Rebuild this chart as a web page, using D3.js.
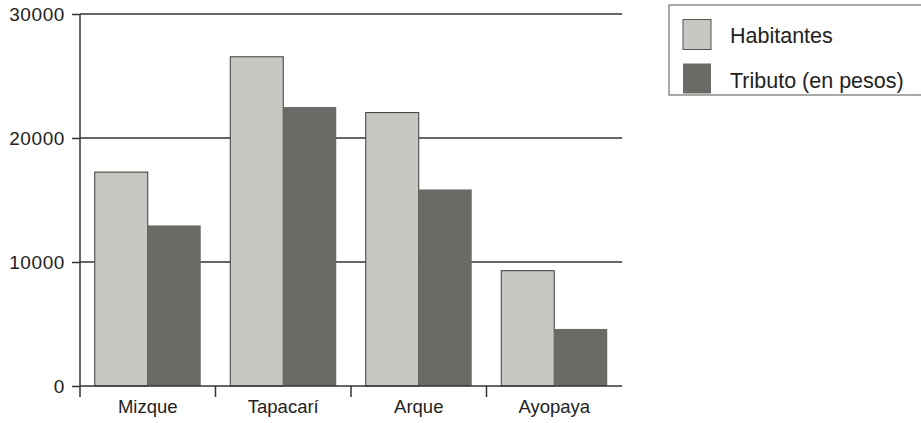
<!DOCTYPE html>
<html>
<head>
<meta charset="utf-8">
<script src="https://cdn.jsdelivr.net/npm/d3@7"></script>
<style>
  html, body { margin: 0; padding: 0; background: #fff; }
  svg { display: block; font-family: "Liberation Sans", Arial, Helvetica, sans-serif; }
</style>
</head>
<body>
<svg id="chart" width="921" height="423"></svg>
<script>
const categories = ["Mizque", "Tapacarí", "Arque", "Ayopaya"];
const seriesNames = ["Habitantes", "Tributo (en pesos)"];
const habitantes = [17250, 26550, 22050, 9300];
const tributo = [12950, 22500, 15850, 4600];
const yTicks = [0, 10000, 20000, 30000];

(function () {
const colors = ["#c9c7c2", "#6c6a67"];
const values = [habitantes, tributo];

const svg = d3.select("#chart");
const mLeft = 80, mRight = 622, mTop = 14, mBottom = 386;

const y = d3.scaleLinear().domain([0, 30000]).range([mBottom, mTop]);
const x = d3.scaleBand().domain(categories).range([mLeft, mRight])
  .paddingInner(0.2177).paddingOuter(0.1089);
const x1 = d3.scaleBand().domain(seriesNames).range([0, x.bandwidth()]).padding(0);

// gridlines
svg.append("g").selectAll("line").data(yTicks.filter(d => d > 0)).join("line")
  .attr("x1", mLeft).attr("x2", mRight)
  .attr("y1", d => y(d)).attr("y2", d => y(d))
  .attr("stroke", "#333").attr("stroke-width", 1.5);

// bars
const data = [];
categories.forEach((c, i) => seriesNames.forEach((s, j) => data.push({c, s, j, v: values[j][i]})));
svg.append("g").selectAll("rect").data(data).join("rect")
  .attr("x", d => x(d.c) + x1(d.s))
  .attr("y", d => y(d.v))
  .attr("width", x1.bandwidth())
  .attr("height", d => y(0) - y(d.v))
  .attr("fill", d => colors[d.j])
  .attr("stroke", d => d.j === 0 ? "#3a3a3a" : "none")
  .attr("stroke-width", 1);

// y axis
const yAxis = d3.axisLeft(y).tickValues(yTicks).tickSize(8).tickPadding(7).tickFormat(d3.format("d"));
const ya = svg.append("g").attr("transform", `translate(${mLeft},0)`).call(yAxis);
ya.select(".domain").remove();
ya.selectAll(".tick line").attr("stroke", "#333").attr("stroke-width", 1.5);
ya.selectAll("text").attr("font-size", 19).attr("fill", "#222").style("letter-spacing", "0.6px")
  .attr("font-family", "'Liberation Sans', Arial, sans-serif");
svg.append("line").attr("x1", mLeft).attr("x2", mLeft).attr("y1", mTop).attr("y2", mBottom + 11)
  .attr("stroke", "#333").attr("stroke-width", 1.5);

// x axis
const xAxis = d3.axisBottom(x).tickSize(0).tickPadding(14);
const xa = svg.append("g").attr("transform", `translate(0,${mBottom})`).call(xAxis);
xa.select(".domain").remove();
xa.selectAll("text").attr("font-size", 18.5).attr("fill", "#222")
  .attr("font-family", "'Liberation Sans', Arial, sans-serif");
svg.append("line").attr("x1", mLeft).attr("x2", mRight).attr("y1", mBottom).attr("y2", mBottom)
  .attr("stroke", "#333").attr("stroke-width", 1.5);
svg.append("g").selectAll("line").data(categories.slice(1)).join("line")
  .attr("x1", d => x(d) - x.step() * x.paddingInner() / 2)
  .attr("x2", d => x(d) - x.step() * x.paddingInner() / 2)
  .attr("y1", mBottom).attr("y2", mBottom + 11)
  .attr("stroke", "#333").attr("stroke-width", 1.5);

// legend
const lg = svg.append("g");
lg.append("rect").attr("x", 669).attr("y", 5).attr("width", 270).attr("height", 90)
  .attr("fill", "none").attr("stroke", "#555").attr("stroke-width", 1);
const legY = [19.5, 63.5];
const legText = [43, 88];
seriesNames.forEach((s, j) => {
  lg.append("rect").attr("x", 683).attr("y", legY[j]).attr("width", 28).attr("height", 30)
    .attr("fill", colors[j]).attr("stroke", j === 0 ? "#555" : "none").attr("stroke-width", 1);
  lg.append("text").attr("x", 730).attr("y", legText[j]).text(s)
    .attr("font-size", 21.5).attr("fill", "#222");
});
})();
</script>
</body>
</html>
